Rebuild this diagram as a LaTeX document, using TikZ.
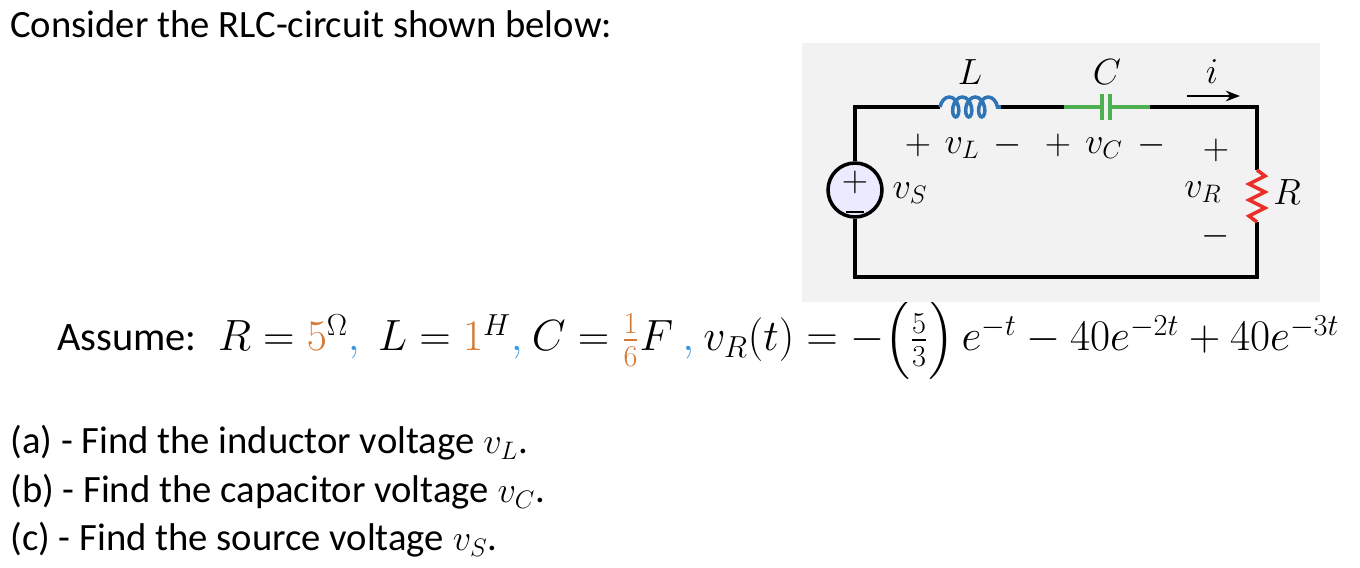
\documentclass[tikz,border=0pt]{standalone}
\usepackage{fontspec}
\setmainfont{Carlito}
\usepackage{amsmath}
\usetikzlibrary{arrows.meta,positioning,decorations.pathmorphing}
\definecolor{boxgray}{RGB}{242,242,242}
\definecolor{coilblue}{RGB}{46,117,182}
\definecolor{capgreen}{RGB}{76,175,80}
\definecolor{resred}{RGB}{232,48,40}
\definecolor{numorange}{RGB}{214,120,50}
\definecolor{commablue}{RGB}{60,150,220}
\begin{document}
\begin{tikzpicture}[
    x=0.02cm, y=-0.02cm,
    wire/.style={line width=2pt, black},
    lbl/.style={font=\fontsize{21}{24}\selectfont},
    txt/.style={font=\fontsize{22}{26}\selectfont, anchor=west, inner sep=0pt}
]
    \useasboundingbox (0,0) rectangle (1360,568);
    % text lines
    \node[txt] (intro) at (10,24) {Consider the RLC-circuit shown below:};
    \node[txt, font=\fontsize{23}{27}\selectfont] (assume) at (57,340) {Assume: \ $R=\textcolor{numorange}{5}^{\Omega}\textcolor{commablue}{,}\ \ L=\textcolor{numorange}{1}^{H}\textcolor{commablue}{,}\ C=\textcolor{numorange}{\frac{1}{6}}F\ \textcolor{commablue}{,}\ v_R(t)=-\Big(\frac{5}{3}\Big)\,e^{-t}-40e^{-2t}+40e^{-3t}$};
    \node[txt] (qa) at (10,443) {(a) - Find the inductor voltage $v_L$.};
    \node[txt] (qb) at (10,492) {(b) - Find the capacitor voltage $v_C$.};
    \node[txt] (qc) at (10,540) {(c) - Find the source voltage $v_S$.};
    % circuit
    \fill[boxgray] (802,43) rectangle (1320,302);
    \coordinate (tl) at (855,107);
    \coordinate (tr) at (1257,107);
    \coordinate (bl) at (855,277);
    \coordinate (br) at (1257,277);
    \coordinate (la) at (940,107);
    \coordinate (lb) at (1001,107);
    \coordinate (ca) at (1064,107);
    \coordinate (cb) at (1150,107);
    \coordinate (ra) at (1257,170);
    \coordinate (rb) at (1257,222);
    \node[circle, draw, line width=2pt, fill=blue!8!white, minimum size=1.08cm, inner sep=0pt] (src) at (855,190) {};
    \node[font=\fontsize{22}{22}\selectfont] at (855,182) {$+$};
    \draw[line width=1.6pt] (846,212) -- (864,212);
    \draw[wire] (src.north) -- (tl) -- (la);
    \draw[wire] (lb) -- (ca);
    \draw[wire] (cb) -- (tr) -- (ra);
    \draw[wire] (rb) -- (br) -- (bl) -- (src.south);
    \draw[coilblue, line width=2pt, decorate, decoration={coil, aspect=0.6, segment length=0.26cm, amplitude=0.2cm}] (la) -- (lb);
    \draw[capgreen, line width=2pt] (ca) -- (1102,107) (1110,107) -- (cb);
    \draw[capgreen, line width=2pt] (1102,94) -- (1102,120) (1110,94) -- (1110,120);
    \draw[resred, line width=2pt] (ra) -- (1265,176) -- (1249,184) -- (1265,192) -- (1249,200) -- (1265,208) -- (1249,216) -- (rb);
    \draw[-{Stealth[length=8pt]}, line width=1.6pt] (1187,96) -- (1240,96);
    \node[lbl] (nL) at (970,72) {$L$};
    \node[lbl] (nC) at (1107,72) {$C$};
    \node[lbl] (ni) at (1212,72) {$i$};
    \node[lbl] at (918,145) {$+$};
    \node[lbl] at (962,148) {$v_L$};
    \node[lbl] at (1008,145) {$-$};
    \node[lbl] at (1058,145) {$+$};
    \node[lbl] at (1104,148) {$v_C$};
    \node[lbl] at (1152,145) {$-$};
    \node[lbl] at (1216,150) {$+$};
    \node[lbl] at (1203,192) {$v_R$};
    \node[lbl] at (1216,236) {$-$};
    \node[lbl] at (1287,192) {$R$};
    \node[lbl] at (910,193) {$v_S$};
\end{tikzpicture}
\end{document}
